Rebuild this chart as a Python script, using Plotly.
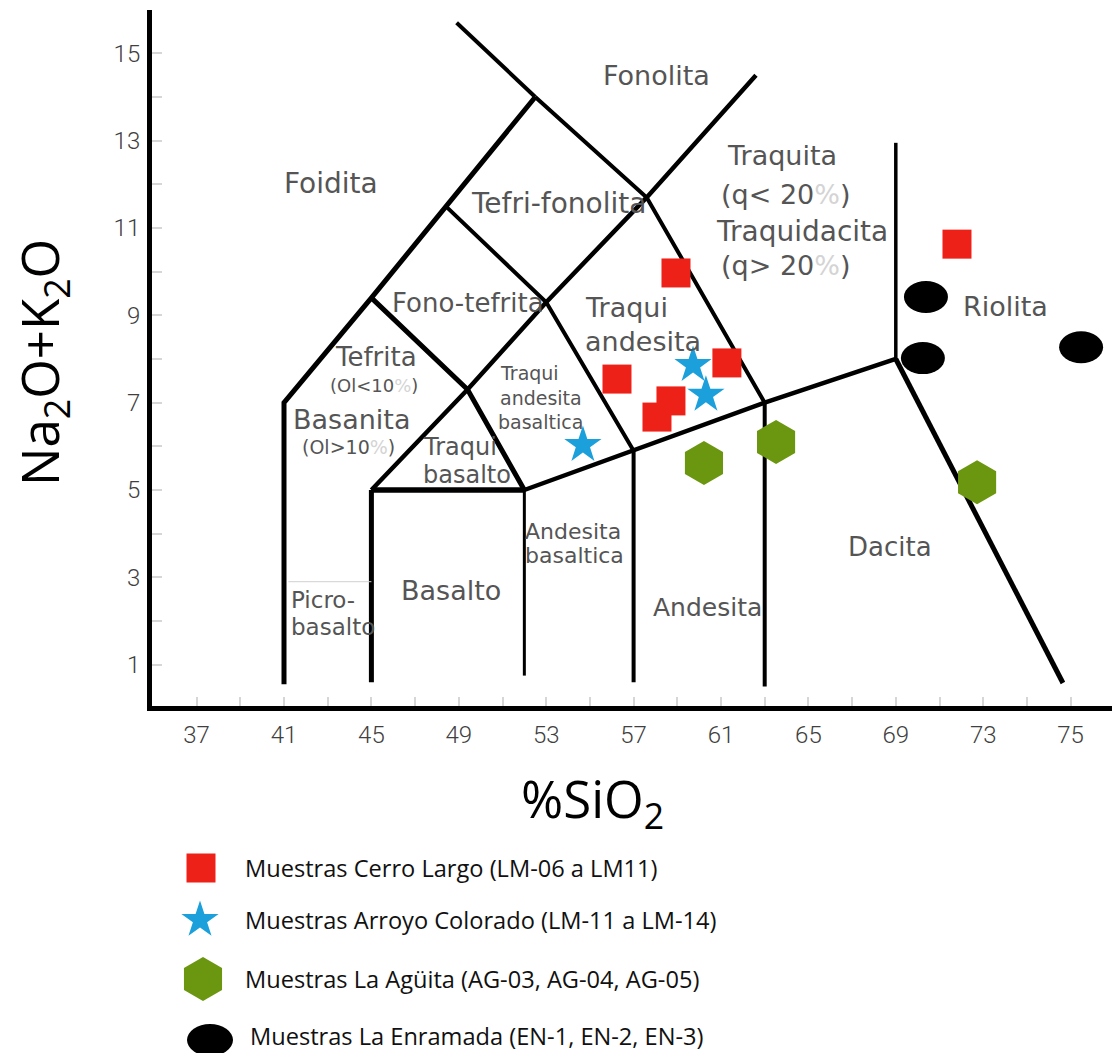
import plotly.graph_objects as go

# ---------------------------------------------------------------------------
# Sample compositions: wt% SiO2 and wt% Na2O+K2O
# ---------------------------------------------------------------------------
cerro_largo_sio2 = [58.94, 61.27, 56.24, 58.71, 58.07, 71.80]
cerro_largo_alk = [9.97, 7.91, 7.54, 7.04, 6.67, 10.63]

arroyo_colorado_sio2 = [59.72, 60.31, 54.68]
arroyo_colorado_alk = [7.86, 7.18, 6.03]

la_aguita_sio2 = [60.22, 63.52, 72.72]
la_aguita_alk = [5.62, 6.10, 5.18]

la_enramada_sio2 = [70.38, 70.24, 77.48]
la_enramada_alk = [9.42, 8.02, 8.27]

series_names = [
    "Muestras Cerro Largo (LM-06 a LM11)",
    "Muestras Arroyo Colorado (LM-11 a LM-14)",
    "Muestras La Agüita (AG-03, AG-04, AG-05)",
    "Muestras La Enramada (EN-1, EN-2, EN-3)",
]

# ---------------------------------------------------------------------------
# TAS field boundaries (SiO2, Na2O+K2O)
# ---------------------------------------------------------------------------
foidite_boundary = [(41, 0.55), (41, 7), (45, 9.4), (48.4, 11.5), (52.5, 14)]
phonolite_foidite = [(52.5, 14), (48.9, 15.7)]
alkaline_diagonal = [(45, 5), (49.4, 7.3), (53, 9.3), (57.6, 11.7), (62.6, 14.5)]
tephrite_split = [(45, 9.4), (49.4, 7.3), (52, 5)]
phonotephrite_split = [(48.4, 11.5), (53, 9.3), (57, 5.9)]
phonolite_trachyte = [(52.5, 14), (57.6, 11.7), (63, 7)]
basalt_top = [(45, 5), (52, 5)]
subalkaline_top = [(52, 5), (57, 5.9), (63, 7), (69, 8)]
sio2_45 = [(45, 0.6), (45, 5)]
sio2_52 = [(52, 0.75), (52, 5)]
sio2_57 = [(57, 0.6), (57, 5.9)]
sio2_63 = [(63, 0.5), (63, 7)]
sio2_69 = [(69, 8), (69, 12.95)]
rhyolite_dacite = [(69, 8), (76.65, 0.58)]
picrobasalt_top = [(41.2, 2.9), (45, 2.9)]

x_tick_values = [37, 41, 45, 49, 53, 57, 61, 65, 69, 73, 77]
x_tick_labels = ["37", "41", "45", "49", "53", "57", "61", "65", "69", "73", "75"]
y_tick_values = [1, 3, 5, 7, 9, 11, 13, 15]
y_tick_labels = ["1", "3", "5", "7", "9", "11", "13", "15"]

# ---------------------------------------------------------------------------
# Page geometry and diagram calibration
# ---------------------------------------------------------------------------
W, H = 1112, 1053
FRAME_LEFT, FRAME_RIGHT, FRAME_TOP, FRAME_BOTTOM = 152, 1112, 10, 706
X_REF, X_REF_PX, X_SCALE = 41.0, 284.0, 21.85
Y_REF, Y_REF_PX, Y_SCALE = 5.0, 490.0, 43.67


def px_to_x(px):
    return X_REF + (px - X_REF_PX) / X_SCALE


def px_to_y(py):
    return Y_REF + (Y_REF_PX - py) / Y_SCALE


x_range = [px_to_x(FRAME_LEFT), px_to_x(FRAME_RIGHT)]
y_range = [px_to_y(FRAME_BOTTOM), px_to_y(FRAME_TOP)]

RED = "#ee2118"
BLUE = "#1ba0dc"
GREEN = "#6b960f"
BLACK = "#000000"
LABEL_GREY = "#555555"
PCT = "<span style='color:#d4d4d4'>%</span>"

SQUARE_SIZE, STAR_SIZE, HEX_SIZE = 29, 28, 44
ELLIPSE_HALF_W_PX, ELLIPSE_HALF_H_PX = 22, 16

fig = go.Figure()

# Field boundaries
boundaries = [
    (foidite_boundary, 5, BLACK),
    (phonolite_foidite, 4, BLACK),
    (alkaline_diagonal, 4.5, BLACK),
    (tephrite_split, 5, BLACK),
    (phonotephrite_split, 4, BLACK),
    (phonolite_trachyte, 4, BLACK),
    (basalt_top, 5.5, BLACK),
    (subalkaline_top, 4.5, BLACK),
    (sio2_45, 5, BLACK),
    (sio2_52, 3, BLACK),
    (sio2_57, 4, BLACK),
    (sio2_63, 4, BLACK),
    (sio2_69, 3.5, BLACK),
    (rhyolite_dacite, 5, BLACK),
    (picrobasalt_top, 1, "#d0d0d0"),
]
for pts, width, color in boundaries:
    fig.add_trace(go.Scatter(
        x=[p[0] for p in pts], y=[p[1] for p in pts], mode="lines",
        line=dict(color=color, width=width), hoverinfo="skip", showlegend=False,
    ))

# Field names
FONT_FIELD = "DejaVu Sans"
field_labels = [
    ("Fonolita", 58.07, 14.50, 27, "center"),
    ("Foidita", 43.15, 12.03, 28, "center"),
    ("Tefri-fonolita", 53.55, 11.57, 28, "center"),
    ("Traquita", 63.79, 12.67, 27, "center"),
    ("(q< 20" + PCT + ")", 63.93, 11.76, 27, "center"),
    ("Traquidacita", 64.71, 10.91, 28, "center"),
    ("(q> 20" + PCT + ")", 63.93, 10.15, 27, "center"),
    ("Riolita", 74.0, 9.21, 27, "center"),
    ("Fono-tefrita", 49.42, 9.28, 26, "center"),
    ("Traqui", 54.68, 9.19, 27, "left"),
    ("andesita", 54.68, 8.39, 27, "left"),
    ("Tefrita", 45.21, 8.04, 26, "center"),
    ("(Ol<10" + PCT + ")", 45.12, 7.40, 18, "center"),
    ("Basanita", 44.07, 6.62, 27, "center"),
    ("(Ol>10" + PCT + ")", 43.97, 5.98, 19, "center"),
    ("Traqui", 50.79, 7.68, 19, "left"),
    ("andesita", 50.79, 7.11, 19, "left"),
    ("basaltica", 50.70, 6.56, 19, "left"),
    ("Traqui", 47.27, 5.98, 24, "left"),
    ("basalto", 47.27, 5.34, 24, "left"),
    ("Andesita", 51.94, 4.04, 22, "left"),
    ("basaltica", 51.94, 3.49, 22, "left"),
    ("Basalto", 48.64, 2.71, 27, "center"),
    ("Picro-", 41.23, 2.48, 23, "left"),
    ("basalto", 41.23, 1.86, 23, "left"),
    ("Andesita", 60.40, 2.32, 25, "center"),
    ("Dacita", 68.73, 3.69, 26, "center"),
]
annotations = []
for text, x, y, size, anchor in field_labels:
    annotations.append(dict(
        text=text, x=x, y=y, xref="x", yref="y", xanchor=anchor, yanchor="middle",
        showarrow=False, font=dict(family=FONT_FIELD, size=size, color=LABEL_GREY),
    ))

# Samples
fig.add_trace(go.Scatter(
    x=cerro_largo_sio2, y=cerro_largo_alk, mode="markers", name=series_names[0],
    marker=dict(symbol="square", size=SQUARE_SIZE, color=RED, line=dict(width=0)),
    showlegend=False,
))
fig.add_trace(go.Scatter(
    x=arroyo_colorado_sio2, y=arroyo_colorado_alk, mode="markers", name=series_names[1],
    marker=dict(symbol="star", size=STAR_SIZE, color=BLUE, line=dict(width=0)),
    showlegend=False,
))
fig.add_trace(go.Scatter(
    x=la_aguita_sio2, y=la_aguita_alk, mode="markers", name=series_names[2],
    marker=dict(symbol="hexagon", size=HEX_SIZE, color=GREEN, line=dict(width=0)),
    showlegend=False,
))

shapes = []
ew = ELLIPSE_HALF_W_PX / X_SCALE
eh = ELLIPSE_HALF_H_PX / Y_SCALE
for x, y in zip(la_enramada_sio2, la_enramada_alk):
    shapes.append(dict(
        type="circle", xref="x", yref="y", x0=x - ew, x1=x + ew, y0=y - eh, y1=y + eh,
        fillcolor=BLACK, line=dict(width=0), layer="above",
    ))

# Key below the diagram (pixel-space auxiliary axes)
LEGEND_TOP_PX = 740
legend_rows_px = [868, 920, 979, 1036]
legend_key_px = [201, 200, 203, 210]
legend_text_px = [243, 243, 243, 248]
key_symbols = [("square", SQUARE_SIZE, RED), ("star", STAR_SIZE, BLUE), ("hexagon", HEX_SIZE, GREEN)]
for i, (sym, size, color) in enumerate(key_symbols):
    fig.add_trace(go.Scatter(
        x=[legend_key_px[i]], y=[legend_rows_px[i]], xaxis="x2", yaxis="y2",
        mode="markers", marker=dict(symbol=sym, size=size, color=color, line=dict(width=0)),
        hoverinfo="skip", showlegend=False,
    ))
shapes.append(dict(
    type="circle", xref="paper", yref="paper",
    x0=(legend_key_px[3] - 23) / W, x1=(legend_key_px[3] + 23) / W,
    y0=1 - (legend_rows_px[3] + 20) / H, y1=1 - (legend_rows_px[3] - 12) / H,
    fillcolor=BLACK, line=dict(width=0), layer="above",
))
for i, name in enumerate(series_names):
    annotations.append(dict(
        text=name, x=legend_text_px[i] / W, y=1 - legend_rows_px[i] / H,
        xref="paper", yref="paper", xanchor="left", yanchor="middle", showarrow=False,
        font=dict(family="Open Sans", size=23.6, color="#111111"),
    ))

# Axis titles
annotations.append(dict(
    text="%SiO<sub>2</sub>", x=592 / W, y=1 - 801 / H, xref="paper", yref="paper",
    xanchor="center", yanchor="middle", showarrow=False,
    font=dict(family="Open Sans", size=51, color="#000000"),
))
annotations.append(dict(
    text="Na<sub>2</sub>O+K<sub>2</sub>O", x=42 / W, y=1 - 363 / H, xref="paper", yref="paper",
    xanchor="center", yanchor="middle", textangle=-90, showarrow=False,
    font=dict(family="Open Sans", size=51, color="#000000"),
))

tick_font = dict(family="Roboto", size=24, color="#404040", weight=300)
fig.update_layout(
    width=W, height=H, autosize=False,
    margin=dict(l=0, r=0, t=0, b=0),
    paper_bgcolor="white", plot_bgcolor="white",
    showlegend=False,
    xaxis=dict(
        domain=[FRAME_LEFT / W, FRAME_RIGHT / W], range=x_range, anchor="y",
        showgrid=False, zeroline=False, showline=True, linecolor="black", linewidth=5,
        tickmode="array", tickvals=x_tick_values, ticktext=x_tick_labels,
        ticks="inside", ticklen=9, tickcolor="#d6d6d6", tickwidth=1.5,
        minor=dict(tickvals=list(range(35, 79, 2)), ticks="inside", ticklen=9,
                   tickcolor="#d6d6d6", tickwidth=1.5, showgrid=False),
        tickfont=tick_font, ticklabelstandoff=3, fixedrange=True,
    ),
    yaxis=dict(
        domain=[1 - FRAME_BOTTOM / H, 1 - FRAME_TOP / H], range=y_range, anchor="x",
        showgrid=False, zeroline=False, showline=True, linecolor="black", linewidth=5,
        tickmode="array", tickvals=y_tick_values, ticktext=y_tick_labels,
        ticks="inside", ticklen=10, tickcolor="#d6d6d6", tickwidth=1.5,
        minor=dict(tickvals=list(range(0, 16)), ticks="inside", ticklen=10,
                   tickcolor="#d6d6d6", tickwidth=1.5, showgrid=False),
        tickfont=tick_font, ticklabelstandoff=2, fixedrange=True,
    ),
    xaxis2=dict(domain=[0, 1], range=[0, W], anchor="y2", visible=False, fixedrange=True),
    yaxis2=dict(domain=[0, 1 - LEGEND_TOP_PX / H], range=[H, LEGEND_TOP_PX], anchor="x2",
                visible=False, fixedrange=True),
    annotations=annotations,
    shapes=shapes,
)

fig.write_html("out.html")
